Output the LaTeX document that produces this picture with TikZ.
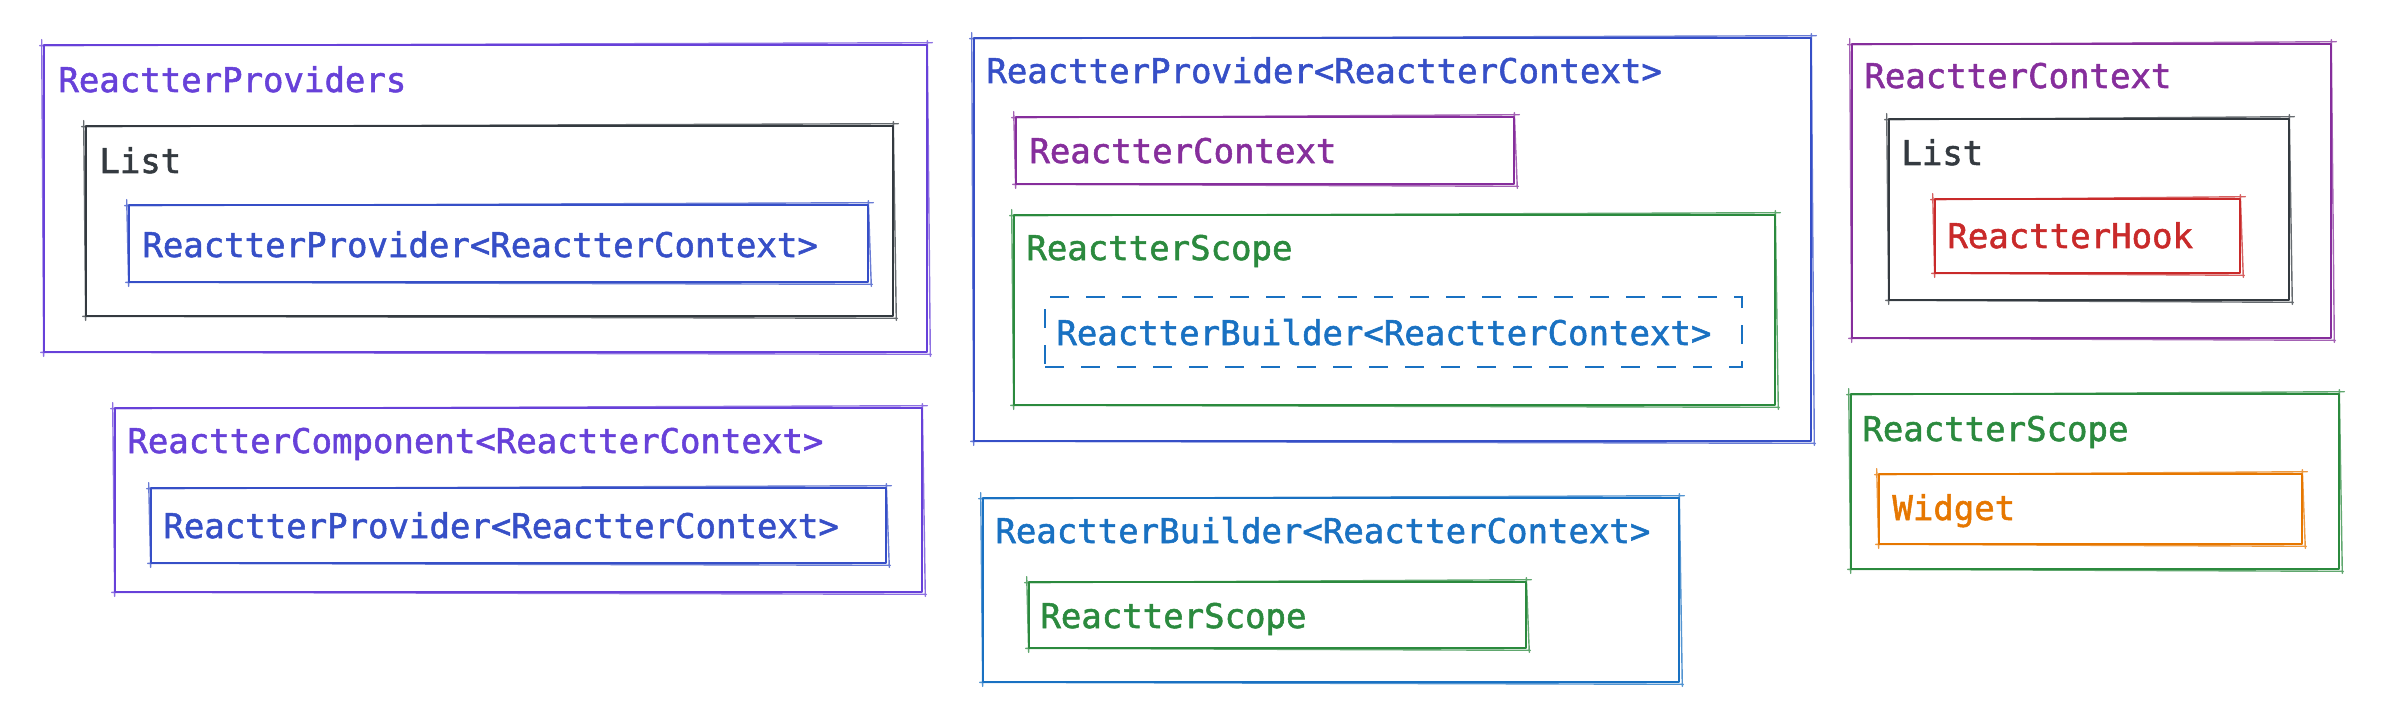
\documentclass[tikz,border=0pt]{standalone}
\usepackage{fontspec}
\newfontfamily\codefont[FakeBold=1.6]{DejaVu Sans Mono}
\usetikzlibrary{fit}
\definecolor{cviolet}{HTML}{6741D9}
\definecolor{cindigo}{HTML}{364FC7}
\definecolor{cgrape}{HTML}{862E9C}
\definecolor{cgray}{HTML}{343A40}
\definecolor{cgreen}{HTML}{2B8A3E}
\definecolor{cblue}{HTML}{1971C2}
\definecolor{cred}{HTML}{C92A2A}
\definecolor{corange}{HTML}{E67700}
\newcommand\roughbox[2]{%
  \draw[#2, line width=0.7pt, opacity=0.75, line cap=round]
    ([shift={(-3,2)}]#1.north west) -- ([shift={(4,-1)}]#1.north east)
    ([shift={(-1,-3)}]#1.north east) -- ([shift={(2,3)}]#1.south east)
    ([shift={(3,1)}]#1.south east) -- ([shift={(-2,-1)}]#1.south west)
    ([shift={(1,3)}]#1.south west) -- ([shift={(-1,-4)}]#1.north west);}
\begin{document}
\begin{tikzpicture}[x=0.5pt,y=-0.5pt,
  frame/.style={draw=#1, line width=1.3pt, inner sep=0pt, line join=round},
  dframe/.style={draw=#1, line width=1.4pt, inner sep=0pt, dash pattern=on 9.5pt off 8.5pt},
  lbl/.style={text=#1, anchor=base west, inner sep=0pt, font=\codefont\fontsize{17}{20}\selectfont},
]
\useasboundingbox[fill=white] (0,0) rectangle (2390,722);

% --- ReactterProviders
\node[frame=cviolet, fit={(44,45) (927,352)}] (provs) {};
\roughbox{provs}{cviolet}
\node[lbl=cviolet] (provsT) at (58,92) {ReactterProviders};
\node[frame=cgray, fit={(86,126) (893,316)}] (listA) {};
\roughbox{listA}{cgray}
\node[lbl=cgray] (listAT) at (99,173) {List};
\node[frame=cindigo, fit={(129,205) (868,282)}] (provA) {};
\roughbox{provA}{cindigo}
\node[lbl=cindigo] (provAT) at (142,257) {ReactterProvider<ReactterContext>};

% --- ReactterComponent
\node[frame=cviolet, fit={(115,408) (922,592)}] (comp) {};
\roughbox{comp}{cviolet}
\node[lbl=cviolet] (compT) at (127,453) {ReactterComponent<ReactterContext>};
\node[frame=cindigo, fit={(151,488) (886,563)}] (provD) {};
\roughbox{provD}{cindigo}
\node[lbl=cindigo] (provDT) at (163,538) {ReactterProvider<ReactterContext>};

% --- ReactterProvider big
\node[frame=cindigo, fit={(974,38) (1811,441)}] (provB) {};
\roughbox{provB}{cindigo}
\node[lbl=cindigo] (provBT) at (986,83) {ReactterProvider<ReactterContext>};
\node[frame=cgrape, fit={(1016,117) (1514,184)}] (ctxB) {};
\roughbox{ctxB}{cgrape}
\node[lbl=cgrape] (ctxBT) at (1029,163) {ReactterContext};
\node[frame=cgreen, fit={(1014,215) (1775,405)}] (scopeB) {};
\roughbox{scopeB}{cgreen}
\node[lbl=cgreen] (scopeBT) at (1026,260) {ReactterScope};
\node[dframe=cblue, fit={(1045,297) (1742,367)}] (buildB) {};
\node[lbl=cblue] (buildBT) at (1056,345) {ReactterBuilder<ReactterContext>};

% --- ReactterBuilder
\node[frame=cblue, fit={(983,498) (1679,682)}] (buildE) {};
\roughbox{buildE}{cblue}
\node[lbl=cblue] (buildET) at (995,543) {ReactterBuilder<ReactterContext>};
\node[frame=cgreen, fit={(1029,582) (1526,648)}] (scopeE) {};
\roughbox{scopeE}{cgreen}
\node[lbl=cgreen] (scopeET) at (1040,628) {ReactterScope};

% --- ReactterContext right
\node[frame=cgrape, fit={(1852,44) (2331,338)}] (ctxC) {};
\roughbox{ctxC}{cgrape}
\node[lbl=cgrape] (ctxCT) at (1864,88) {ReactterContext};
\node[frame=cgray, fit={(1889,119) (2289,300)}] (listC) {};
\roughbox{listC}{cgray}
\node[lbl=cgray] (listCT) at (1901,165) {List};
\node[frame=cred, fit={(1935,199) (2240,273)}] (hook) {};
\roughbox{hook}{cred}
\node[lbl=cred] (hookT) at (1947,248) {ReactterHook};

% --- ReactterScope right
\node[frame=cgreen, fit={(1851,394) (2339,569)}] (scopeC) {};
\roughbox{scopeC}{cgreen}
\node[lbl=cgreen] (scopeCT) at (1862,441) {ReactterScope};
\node[frame=corange, fit={(1879,474) (2302,544)}] (widget) {};
\roughbox{widget}{corange}
\node[lbl=corange] (widgetT) at (1892,520) {Widget};
\end{tikzpicture}
\end{document}
